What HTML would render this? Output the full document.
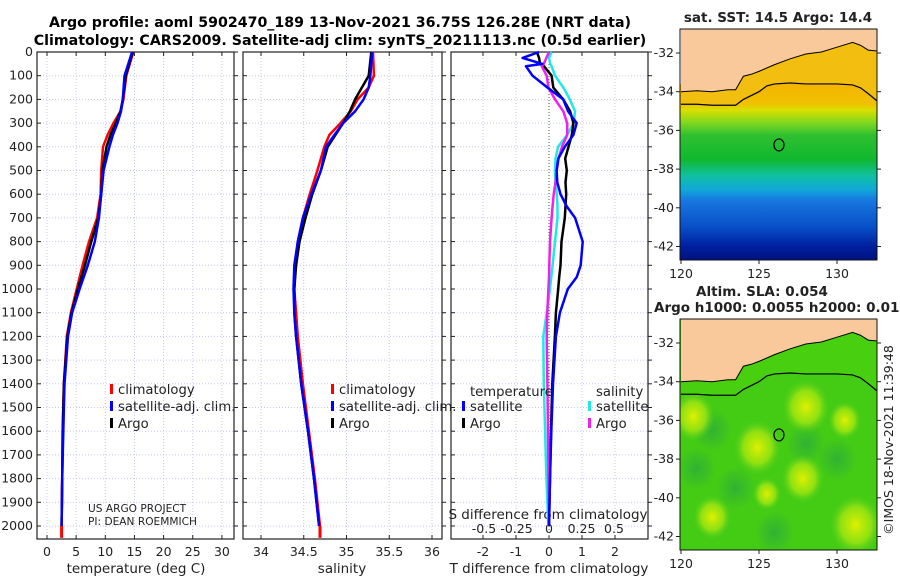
<!DOCTYPE html>
<html><head><meta charset="utf-8">
<style>
html,body{margin:0;padding:0;background:#fff;}
svg{display:block;font-family:"DejaVu Sans","Liberation Sans",sans-serif;}
</style></head>
<body>
<svg id="c" width="900" height="580" viewBox="0 0 900 580" xmlns="http://www.w3.org/2000/svg">
<defs>
<linearGradient id="sstg" x1="0" y1="0" x2="0" y2="1">
<stop offset="0" stop-color="#f5b400"/>
<stop offset="0.11" stop-color="#f0c000"/>
<stop offset="0.15" stop-color="#d8e000"/>
<stop offset="0.22" stop-color="#80d820"/>
<stop offset="0.29" stop-color="#30c030"/>
<stop offset="0.43" stop-color="#10b830"/>
<stop offset="0.52" stop-color="#10c0a0"/>
<stop offset="0.60" stop-color="#10a8d8"/>
<stop offset="0.66" stop-color="#1878e0"/>
<stop offset="0.81" stop-color="#0850c8"/>
<stop offset="0.92" stop-color="#0020a0"/>
<stop offset="1" stop-color="#001080"/>
</linearGradient>
<radialGradient id="blob"><stop offset="0" stop-color="#e0f000"/><stop offset="0.6" stop-color="#b0ea10" stop-opacity="0.7"/><stop offset="1" stop-color="#60d020" stop-opacity="0"/></radialGradient>
<radialGradient id="dblob"><stop offset="0" stop-color="#28a840" stop-opacity="0.7"/><stop offset="1" stop-color="#28a840" stop-opacity="0"/></radialGradient>
<clipPath id="m1"><rect x="680" y="29" width="197" height="231"/></clipPath>
<clipPath id="m2"><rect x="680" y="319" width="197" height="231"/></clipPath>
</defs>
<text x="340" y="27" text-anchor="middle" font-size="14.2" font-weight="bold">Argo profile: aoml 5902470_189 13-Nov-2021 36.75S 126.28E (NRT data)</text>
<text x="340" y="45" text-anchor="middle" font-size="14.2" font-weight="bold">Climatology: CARS2009. Satellite-adj clim: synTS_20211113.nc (0.5d earlier)</text>
<g id="g"></g>
</svg>
<script>
// ---- data ----
const depthT = [0,100,200,250,300,350,400,500,600,700,800,900,1000,1100,1200,1400,1600,1800,2000];
const tClim  = [14.8,13.6,13.1,12.6,11.4,10.4,9.6,9.3,9.2,8.6,7.2,6.1,5.1,4.1,3.4,2.9,2.7,2.6,2.5];
const tSat   = [14.6,13.3,13.0,12.7,12.1,11.3,10.7,9.7,9.3,8.9,8.2,7.0,5.6,4.3,3.6,3.0,2.8,2.6,2.5];
const tArgo  = [14.7,13.5,13.0,12.6,11.8,10.9,10.2,9.5,9.3,8.8,7.6,6.5,5.3,4.2,3.5,2.9,2.7,2.6,2.5];
const depthS = [0,100,150,200,250,300,350,400,500,600,700,800,900,1000,1100,1200,1400,1600,1800,2000];
const sClim  = [35.31,35.32,35.26,35.13,35.05,34.93,34.80,34.74,34.66,34.57,34.49,34.43,34.40,34.39,34.41,34.43,34.49,34.56,34.63,34.69];
const sArgo  = [35.29,35.26,35.18,35.10,35.04,34.96,34.87,34.78,34.70,34.60,34.52,34.45,34.41,34.39,34.39,34.41,34.47,34.55,34.62,34.68];
const sSat   = [35.30,35.28,35.26,35.20,35.10,34.96,34.86,34.76,34.70,34.59,34.49,34.43,34.39,34.38,34.39,34.41,34.47,34.55,34.62,34.68];
const depthD = [0,25,50,60,100,150,200,250,300,350,400,450,500,550,600,650,700,800,900,950,1000,1100,1200,1400,1600,1800,2000];
const dTSat  = [-0.3,-0.8,-0.2,-0.7,-0.5,-0.05,0.43,0.58,0.84,0.74,0.48,0.28,0.23,0.25,0.35,0.53,0.79,1.02,0.96,0.84,0.57,0.33,0.21,0.12,0.07,0.03,0.0];
const dTArgo = [-0.37,-0.3,-0.27,-0.15,0.08,0.13,0.43,0.64,0.74,0.69,0.59,0.49,0.54,0.50,0.52,0.50,0.48,0.38,0.35,0.31,0.28,0.21,0.18,0.1,0.06,0.03,0.0];
const dSSat  = [0.02,0.0,0.01,0.02,0.046,0.11,0.16,0.2,0.19,0.14,0.07,0.05,0.046,0.05,0.06,0.065,0.065,0.046,0.028,0.018,0.008,-0.018,-0.044,-0.04,-0.03,-0.02,-0.005];
const dSArgo = [0.0,-0.02,-0.04,-0.056,-0.018,-0.005,0.046,0.11,0.14,0.14,0.1,0.074,0.06,0.05,0.036,0.028,0.02,0.008,0.002,0.0,-0.005,-0.013,-0.018,-0.012,-0.008,-0.004,0.0];
const depthTicks = [0,100,200,300,400,500,600,700,800,900,1000,1100,1200,1300,1400,1500,1600,1700,1800,1900,2000];
const tTicks = [0,5,10,15,20,25,30];
const sTicks = [34,34.5,35,35.5,36];
const sTickLabels = ["34","34.5","35","35.5","36"];
const dTTicks = [-2,-1,0,1,2];
const dSTicks = [-0.5,-0.25,0,0.25,0.5];
const dSTickLabels = ["-0.5","-0.25","0","0.25","0.5"];
const coastLon = [120,121,122,123,123.5,124,124.5,125,126,127,128,129,130,131,131.5,132,132.6,132.6,120];
const coastLat = [-34.0,-33.95,-34.0,-33.9,-33.9,-33.2,-33.1,-32.95,-32.6,-32.3,-32.05,-31.95,-31.7,-31.45,-31.6,-31.85,-31.9,-30.7,-30.7];
const shelfLon = [120,121,122,123,123.5,124,125,125.5,126,127,128,129,130,131,131.5,132,132.6];
const shelfLat = [-34.65,-34.65,-34.7,-34.7,-34.7,-34.4,-34.0,-33.7,-33.6,-33.55,-33.6,-33.6,-33.6,-33.65,-33.8,-34.1,-34.5];
const lats = [-32,-34,-36,-38,-40,-42];
const lons = [120,125,130];
const argoLon = 126.28, argoLat = -36.75;
const slaBlobLon = [120.8,124.9,128.0,131.2,127.8,122.0,130.5,125.5];
const slaBlobLat = [-35.8,-37.4,-35.3,-41.4,-39.0,-41.0,-36.0,-39.8];
const slaBlobR   = [0.9,1.0,1.0,1.1,0.9,0.8,0.7,0.6];

const NS="http://www.w3.org/2000/svg";
const G=document.getElementById('g');
function el(tag,attrs,parent){const e=document.createElementNS(NS,tag);for(const k in attrs)e.setAttribute(k,attrs[k]);(parent||G).appendChild(e);return e;}
function txt(x,y,s,size,anchor,parent){const t=el('text',{x:x,y:y,'font-size':size||12,'text-anchor':anchor||'middle',fill:'#222'},parent);t.textContent=s;return t;}

const Y=d=>52+d*0.237;
const panelTop=52, panelBot=539;
const xT=v=>47+v*5.83;
const xS=v=>261+(v-34)*85.5;
const xDT=v=>549+v*33;
const xDS=v=>549+v*130;
const panels=[{l:37,r:234,n:'temperature'},{l:243,r:442,n:'salinity'},{l:451,r:648,n:'difference'}];

function line(xs,ys,fx,color,name,w){
  let d='';for(let i=0;i<xs.length;i++){d+=(i?'L':'M')+fx(xs[i]).toFixed(1)+','+Y(ys[i]).toFixed(1);}
  const p=el('path',{d:d,fill:'none',stroke:color,'stroke-width':w||2.5,'stroke-linejoin':'round'});
  
  
  return p;
}

panels.forEach((p,pi)=>{
  const g=el('g',{});
  
  
  depthTicks.forEach(d=>{
    el('line',{x1:p.l,x2:p.r,y1:Y(d),y2:Y(d),stroke:'#c4c8ec','stroke-width':1,'stroke-dasharray':'1,2'},g);
    el('line',{x1:p.l,x2:p.l+4,y1:Y(d),y2:Y(d),stroke:'#222'},g);
    el('line',{x1:p.r,x2:p.r+4,y1:Y(d),y2:Y(d),stroke:'#222'},g);
  });
  const ticks = pi==0?tTicks:pi==1?sTicks:dTTicks;
  const fx = pi==0?xT:pi==1?xS:xDT;
  ticks.forEach(v=>{
    el('line',{x1:fx(v),x2:fx(v),y1:panelTop,y2:panelBot,stroke:'#c4c8ec','stroke-width':1,'stroke-dasharray':'1,2'},g);
    el('line',{x1:fx(v),x2:fx(v),y1:panelBot,y2:panelBot-4,stroke:'#222'},g);
    el('line',{x1:fx(v),x2:fx(v),y1:panelTop,y2:panelTop+4,stroke:'#222'},g);
  });
  el('rect',{x:p.l,y:panelTop,width:p.r-p.l,height:panelBot-panelTop,fill:'none',stroke:'#222','stroke-width':1.2},g);
});
depthTicks.forEach(d=>{const t=txt(33,Y(d)+4,String(d),12.5,'end');});
tTicks.forEach(v=>{const t=txt(xT(v),556,String(v),12.5);});
sTicks.forEach((v,i)=>{const t=txt(xS(v),556,sTickLabels[i],12.5);});
dTTicks.forEach(v=>{const t=txt(xDT(v),556,String(v),12.5);});
dSTicks.forEach((v,i)=>{const t=txt(xDS(v),533,dSTickLabels[i],12.5);});
let t;
t=txt(136,573,'temperature (deg C)',13.5);
t=txt(342,573,'salinity',13.5);
t=txt(549,573,'T difference from climatology',13.5);
t=txt(548,519,'S difference from climatology',13.5);
t=txt(88,512,'US ARGO PROJECT',10.6,'start');
t=txt(88,525,'PI: DEAN ROEMMICH',10.6,'start');

const z=el('line',{x1:xDT(0),x2:xDT(0),y1:panelTop,y2:panelBot,stroke:'#3a6a3a','stroke-width':1,'stroke-dasharray':'1,2'});



line(tClim,depthT,xT,'#f00','temperature-climatology-line');
line(tArgo,depthT,xT,'#000','temperature-argo-line');
line(tSat,depthT,xT,'#00f','temperature-satellite-line');
el('line',{x1:xT(tClim[tClim.length-1]),x2:xT(tClim[tClim.length-1]),y1:Y(2000),y2:Y(2050),stroke:'#f00','stroke-width':3});
line(sClim,depthS,xS,'#f00','salinity-climatology-line');
line(sArgo,depthS,xS,'#000','salinity-argo-line');
line(sSat,depthS,xS,'#00f','salinity-satellite-line');
el('line',{x1:xS(sClim[sClim.length-1]),x2:xS(sClim[sClim.length-1]),y1:Y(2000),y2:Y(2050),stroke:'#f00','stroke-width':3});
line(dSSat,depthD,xDS,'#20e8e8','s-diff-satellite-line');
line(dTArgo,depthD,xDT,'#000','t-diff-argo-line');
line(dSArgo,depthD,xDS,'#f020f0','s-diff-argo-line');
line(dTSat,depthD,xDT,'#00f','t-diff-satellite-line');

function leg(x,y,color,label,name){
  const g=el('g',{});
  
  
  el('rect',{x:x,y:y-9,width:3,height:10,fill:color},g);
  txt(x+8,y+1,label,13.2,'start',g);
}
leg(110,393,'#f00','climatology','legend-climatology');
leg(110,410,'#00f','satellite-adj. clim.','legend-satellite-adj');
leg(110,427,'#000','Argo','legend-argo');
leg(331,393,'#f00','climatology','legend-climatology-s');
leg(331,410,'#00f','satellite-adj. clim.','legend-satellite-adj-s');
leg(331,427,'#000','Argo','legend-argo-s');
t=txt(470,396,'temperature',13.2,'start');
leg(462,410,'#00f','satellite','legend-t-satellite');
leg(462,427,'#000','Argo','legend-t-argo');
t=txt(596,396,'salinity',13.2,'start');
leg(588,410,'#20e8e8','satellite','legend-s-satellite');
leg(588,427,'#f020f0','Argo','legend-s-argo');

function buildMap(top,ybase,kind){
  const mx=v=>681+(v-120)*15.6;
  const my=v=>ybase+(-32-v)*19.35;
  const g=el('g',{});
  
  
  const cg=el('g',{'clip-path':'url(#'+(kind=='sst'?'m1':'m2')+')'},g);
  if(kind=='sst'){
    el('rect',{x:680,y:my(-33.6),width:197,height:top+231-my(-33.6),fill:'url(#sstg)'},cg);
  } else {
    el('rect',{x:680,y:top,width:197,height:231,fill:'#44cc14'},cg);
    [[122,-36.5],[128,-37.2],[121,-38.5],[126,-41.8],[130,-38],[123.5,-39.5]].forEach(q=>el('ellipse',{cx:mx(q[0]),cy:my(q[1]),rx:20,ry:22,fill:'url(#dblob)'},cg));
    slaBlobLon.forEach((lo,i)=>{
      const c=el('ellipse',{cx:mx(lo),cy:my(slaBlobLat[i]),rx:slaBlobR[i]*15.6*1.5,ry:slaBlobR[i]*19.35*1.4,fill:'url(#blob)'},cg);
      
      
    });
  }
  let sd='';shelfLon.forEach((lo,i)=>{sd+=(i?'L':'M')+mx(lo)+','+my(shelfLat[i]);});
  let bd=sd;for(let i=coastLon.length-3;i>=0;i--){bd+='L'+mx(coastLon[i])+','+my(coastLat[i]);}
  el('path',{d:bd+'Z',fill:kind=='sst'?'#f2be10':'#48d010'},cg);
  let cd='';coastLon.forEach((lo,i)=>{cd+=(i?'L':'M')+mx(lo)+','+my(coastLat[i]);});
  el('path',{d:cd+'Z',fill:'#f9c89b',stroke:'none'},cg);
  let cl='';for(let i=0;i<coastLon.length-2;i++){cl+=(i?'L':'M')+mx(coastLon[i])+','+my(coastLat[i]);}
  const co=el('path',{d:cl,fill:'none',stroke:'#000','stroke-width':1},cg);
  
  
  const sh=el('path',{d:sd,fill:'none',stroke:'#000','stroke-width':1.2},cg);
  
  
  const ac=el('ellipse',{cx:mx(argoLon),cy:my(argoLat),rx:5,ry:6,fill:'none',stroke:'#000','stroke-width':1.2},g);
  
  
  el('rect',{x:680,y:top,width:197,height:231,fill:'none',stroke:'#111','stroke-width':1},g);
  lats.forEach(la=>{
    el('line',{x1:676,x2:680,y1:my(la),y2:my(la),stroke:'#222'},g);
    el('line',{x1:877,x2:881,y1:my(la),y2:my(la),stroke:'#222'},g);
    const l=txt(674,my(la)+4,String(la),12.5,'end',g);
    
    
  });
  lons.forEach(lo=>{
    el('line',{x1:mx(lo),x2:mx(lo),y1:top+231,y2:top+235,stroke:'#222'},g);
    const l=txt(mx(lo),top+249,String(lo),12.5,'middle',g);
    
    
  });
}
buildMap(29,53,'sst');
buildMap(319,343,'sla');
t=txt(778,22,'sat. SST: 14.5 Argo: 14.4',13.5);t.setAttribute('font-weight','bold');
t=txt(762,296,'Altim. SLA: 0.054',13.5);t.setAttribute('font-weight','bold');
t=txt(654,312,'Argo h1000: 0.0055 h2000: 0.017',13.5,'start');t.setAttribute('font-weight','bold');
t=txt(0,0,'©IMOS 18-Nov-2021 11:39:48',12.5,'middle');t.setAttribute('transform','translate(893,440) rotate(-90)');
</script>
</body></html>
